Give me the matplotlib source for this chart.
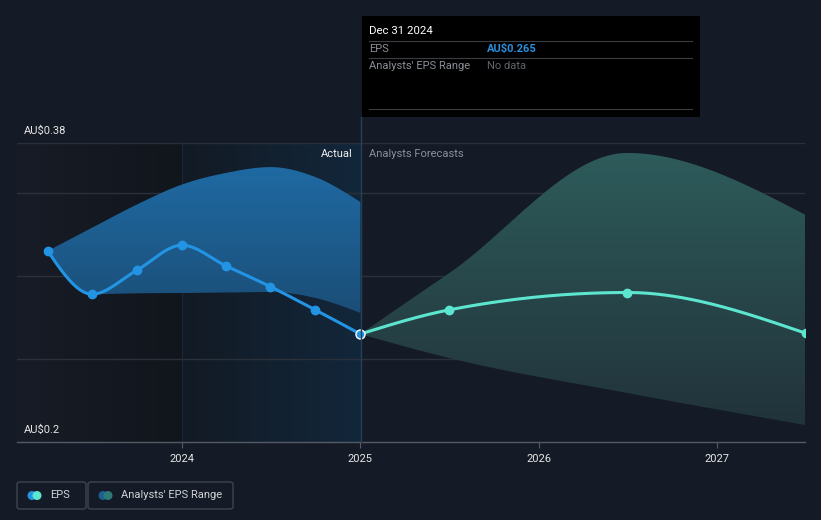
import numpy as np
import matplotlib
matplotlib.use("Agg")
import matplotlib.pyplot as plt
from matplotlib.colors import LinearSegmentedColormap
from matplotlib.patches import PathPatch, Rectangle, FancyBboxPatch, Ellipse
from matplotlib.lines import Line2D

plt.rcParams['font.family'] = ['Roboto', 'DejaVu Sans']

# ---------------- data ----------------
actual_dates = [2023.247, 2023.496, 2023.748, 2024.0, 2024.247, 2024.496, 2024.748, 2025.0]
actual_eps = [0.315, 0.289, 0.3035, 0.3185, 0.306, 0.2935, 0.2795, 0.265]
actual_hi = [0.315, 0.329, 0.343, 0.355, 0.362, 0.3655, 0.3595, 0.3445]
actual_lo = [0.315, 0.289, 0.2895, 0.2897, 0.2900, 0.2903, 0.2867, 0.2777]

forecast_dates = [2025.0, 2025.496, 2026.496, 2027.496]
forecast_eps = [0.265, 0.2795, 0.290, 0.2655]
forecast_hi = [0.265, 0.3015, 0.374, 0.3367]
forecast_lo = [0.265, 0.2506, 0.2295, 0.2102]

year_ticks = [2024, 2025, 2026, 2027]
year_labels = ["2024", "2025", "2026", "2027"]
y_labels = {0.38: "AU$0.38", 0.2: "AU$0.2"}
grid_vals = [0.25, 0.30, 0.35, 0.38]

tooltip_date = "Dec 31 2024"
tooltip_eps = "AU$0.265"

# ---------------- helpers ----------------
W, H = 821, 520
BG = '#151b26'
BLUE = '#2394e3'
TEAL = '#5de6cf'


def monotone(x, y, n=300):
    x = np.asarray(x, float)
    y = np.asarray(y, float)
    h = np.diff(x)
    s = np.diff(y) / h
    m = np.zeros(len(x))
    for i in range(1, len(x) - 1):
        p = (s[i - 1] * h[i] + s[i] * h[i - 1]) / (h[i - 1] + h[i])
        m[i] = (np.sign(s[i - 1]) + np.sign(s[i])) * min(abs(s[i - 1]), abs(s[i]), 0.5 * abs(p))
    if len(x) > 2:
        m[0] = (3 * s[0] - m[1]) / 2
        m[-1] = (3 * s[-1] - m[-2]) / 2
    else:
        m[0] = m[-1] = s[0]
    xs, ys = [], []
    for i in range(len(x) - 1):
        t = np.linspace(0, 1, n)
        h00 = 2 * t**3 - 3 * t**2 + 1
        h10 = t**3 - 2 * t**2 + t
        h01 = -2 * t**3 + 3 * t**2
        h11 = t**3 - t**2
        yy = h00 * y[i] + h10 * h[i] * m[i] + h01 * y[i + 1] + h11 * h[i] * m[i + 1]
        xs.append(x[i] + t * h[i])
        ys.append(yy)
    return np.concatenate(xs), np.concatenate(ys)


def fx(px):
    return px / W


def fy(py):
    return 1 - py / H


fig = plt.figure(figsize=(W / 100, H / 100), dpi=100, facecolor=BG)
ax = fig.add_axes([fx(17), fy(442), fx(805) - fx(17), fy(143) - fy(442)])
ax.set_facecolor(BG)

XMIN, XMAX = 2023.075, 2027.493
YMIN, YMAX = 0.2, 0.38


def hgrad(x0, x1, c0, c1, z):
    cmap = LinearSegmentedColormap.from_list('g', [c0, c1])
    g = np.linspace(0, 1, 256).reshape(1, -1)
    ax.imshow(g, extent=[x0, x1, YMIN, YMAX], origin='lower', cmap=cmap,
              aspect='auto', zorder=z, interpolation='bicubic')


def grad_fill(x, y1, y2, c_top, c_bot, z):
    poly = ax.fill_between(x, y1, y2, color='none', lw=0)
    path = poly.get_paths()[0]
    patch = PathPatch(path, transform=ax.transData, facecolor='none', edgecolor='none')
    ax.add_patch(patch)
    cmap = LinearSegmentedColormap.from_list('v', [c_bot, c_top])
    g = np.linspace(0, 1, 256).reshape(-1, 1)
    ytop = max(np.max(y1), np.max(y2))
    ybot = min(np.min(y1), np.min(y2))
    im = ax.imshow(g, extent=[np.min(x), np.max(x), ybot, ytop], origin='lower',
                   cmap=cmap, aspect='auto', zorder=z, interpolation='bicubic')
    im.set_clip_path(patch)


# background regions
hgrad(XMIN, 2024.0, '#181c26', '#11151c', 0)
hgrad(2024.0, 2025.0, '#131a24', '#12273b', 0)

# gridlines
for g in grid_vals:
    ax.axhline(g, color='#2b313b', lw=1, zorder=1)
ax.axvline(2024.0, color='#17283a', lw=0.8, zorder=1)

# bands
bx, bhi = monotone(actual_dates, actual_hi)
_, blo = monotone(actual_dates, actual_lo)
grad_fill(bx, blo, bhi, '#1f6aa3', '#1b4e77', 2)

fxs, fhi = monotone(forecast_dates, forecast_hi)
_, flo = monotone(forecast_dates, forecast_lo)
grad_fill(fxs, flo, fhi, '#2e5b5b', '#21333a', 2)

# lines
ax_x, ax_y = monotone(actual_dates, actual_eps)
ax.plot(ax_x, ax_y, color=BLUE, lw=2.2, zorder=4, solid_capstyle='round')
ax.plot(actual_dates[:-1], actual_eps[:-1], 'o', color=BLUE, ms=6, zorder=5)

f_x, f_y = monotone(forecast_dates, forecast_eps)
ax.plot(f_x, f_y, color=TEAL, lw=2.2, zorder=4, solid_capstyle='round')
ax.plot(forecast_dates[1:], forecast_eps[1:], 'o', color=TEAL, ms=6, zorder=5)

ax.plot([actual_dates[-1]], [actual_eps[-1]], 'o', color=BLUE, ms=6.5,
        markeredgecolor='white', markeredgewidth=1.0, zorder=6)

ax.set_xlim(XMIN, XMAX)
ax.set_ylim(YMIN, YMAX)
for sp in ['top', 'left', 'right']:
    ax.spines[sp].set_visible(False)
ax.spines['bottom'].set_color('#555b66')
ax.spines['bottom'].set_linewidth(1)
ax.set_yticks([])
ax.set_xticks(year_ticks)
ax.set_xticklabels(year_labels, color='#e6e6e6', fontsize=8)
ax.tick_params(axis='x', length=4, color='#555b66', pad=5)

# y labels
for v, lab in y_labels.items():
    py = 442 - (v - YMIN) / (YMAX - YMIN) * 299 - 12
    fig.text(fx(24), fy(py), lab, color='#e6e6e6', fontsize=8, va='center', ha='left')

# Actual / Forecast labels
fig.text(fx(353), fy(154), "Actual", color='#f0f0f0', fontsize=8, va='center', ha='right')
fig.text(fx(369), fy(154), "Analysts Forecasts", color='#8a8f98', fontsize=8, va='center', ha='left')

# hover vertical line
fig.add_artist(Line2D([fx(361), fx(361)], [fy(117), fy(442)], color='#24415c', lw=1, zorder=3))

# tooltip
fig.add_artist(Rectangle((fx(362), fy(117)), fx(700) - fx(362), fy(16) - fy(117),
                         facecolor='#000000', edgecolor='none', zorder=10))
for ly in [41, 58, 109]:
    fig.add_artist(Line2D([fx(369), fx(692)], [fy(ly), fy(ly)], color='#3a3d42', lw=0.8, zorder=11))
fig.text(fx(369), fy(31), tooltip_date, color='white', fontsize=8.2, va='center', ha='left', zorder=12)
fig.text(fx(369), fy(49), "EPS", color='#8a8f98', fontsize=8, va='center', ha='left', zorder=12)
fig.text(fx(487), fy(49), tooltip_eps, color='#2a8fdc', fontsize=8, va='center', ha='left',
         fontweight='bold', zorder=12)
fig.text(fx(369), fy(66), "Analysts' EPS Range", color='#8a8f98', fontsize=8, va='center', ha='left', zorder=12)
fig.text(fx(487), fy(66), "No data", color='#5f636a', fontsize=8, va='center', ha='left', zorder=12)

# legend
def legend_box(x0, x1, c1, c2, label):
    fig.add_artist(FancyBboxPatch((fx(x0), fy(509)), fx(x1) - fx(x0), fy(482) - fy(509),
                                  boxstyle='round,pad=0,rounding_size=0.004',
                                  facecolor='none', edgecolor='#40464f', lw=1))
    r = 4.5
    fig.add_artist(Ellipse((fx(x0 + 15), fy(495.5)), 2 * r / W, 2 * r / H, facecolor=c1,
                           edgecolor='none', transform=fig.transFigure))
    fig.add_artist(Ellipse((fx(x0 + 20), fy(495.5)), 2 * r / W, 2 * r / H, facecolor=c2,
                           edgecolor='none', transform=fig.transFigure))
    fig.text(fx(x0 + 33), fy(495.5), label, color='#d0d3d8', fontsize=8, va='center', ha='left')

legend_box(17, 86, BLUE, TEAL, "EPS")
legend_box(88, 233, '#1d5f93', '#2e7a76', "Analysts' EPS Range")

fig.savefig('out.png', dpi=100, facecolor=BG)
